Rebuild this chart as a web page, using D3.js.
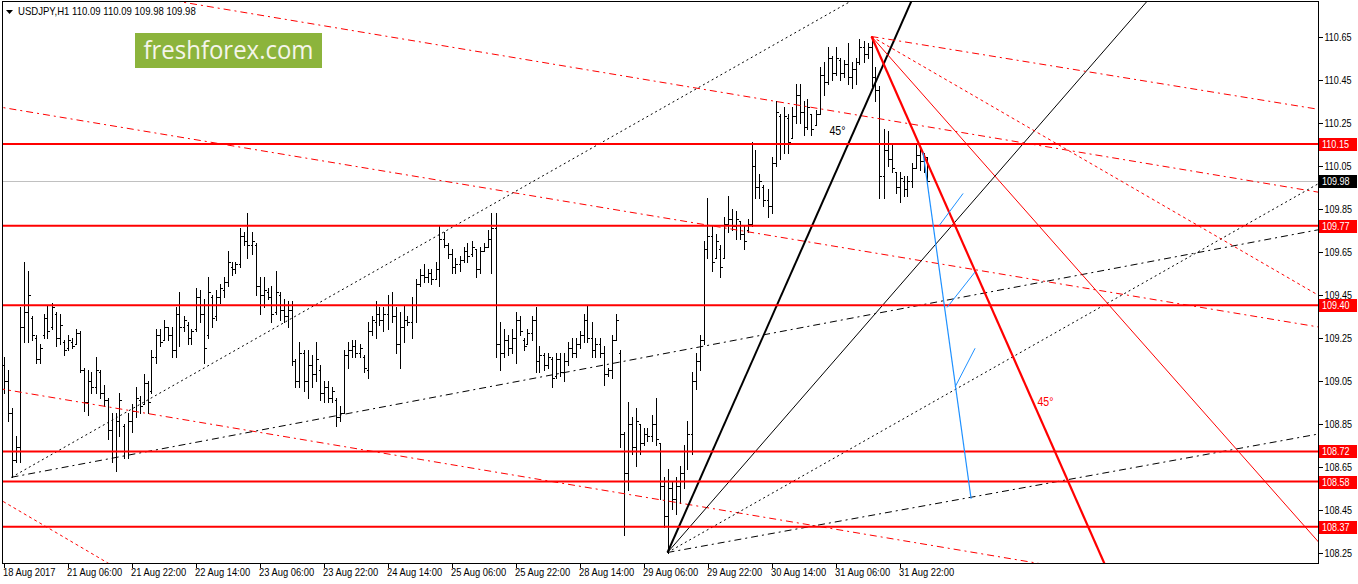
<!DOCTYPE html>
<html><head><meta charset="utf-8">
<script src="https://cdn.jsdelivr.net/npm/d3@7"></script>
<style>body{margin:0;background:#fff;} svg{display:block;}</style>
</head><body>
<svg id="c" width="1358" height="584"></svg>
<script>
// ---------- DATA ----------
const symbolTitle = "USDJPY,H1  110.09 110.09 109.98 109.98";
const opens = [
109.12,109.05,108.90,108.68,108.74,109.30,109.37,109.34,109.25,109.15,
109.26,109.34,109.30,109.36,109.25,109.23,109.20,109.23,109.22,109.27,
109.10,108.95,109.05,109.02,109.09,108.99,108.96,108.82,108.72,108.86,
108.84,108.72,108.86,108.91,108.96,108.94,109.04,109.00,109.16,109.26,
109.24,109.30,109.26,109.19,109.36,109.30,109.31,109.25,109.29,109.44,
109.36,109.26,109.44,109.35,109.44,109.47,109.51,109.58,109.57,109.59,
109.72,109.70,109.68,109.68,109.49,109.45,109.46,109.44,109.37,109.45,
109.38,109.35,109.38,109.14,109.05,109.18,109.05,109.12,109.08,109.10,
108.99,109.02,108.97,108.96,108.88,108.90,109.17,109.19,109.21,109.18,
109.16,109.10,109.28,109.32,109.36,109.33,109.36,109.40,109.35,109.22,
109.30,109.33,109.32,109.40,109.50,109.54,109.53,109.55,109.52,109.57,
109.71,109.68,109.64,109.58,109.59,109.61,109.65,109.64,109.66,109.57,
109.65,109.67,109.71,109.76,109.22,109.18,109.24,109.20,109.25,109.33,
109.24,109.22,109.27,109.33,109.14,109.17,109.12,109.15,109.07,109.15,
109.09,109.14,109.20,109.18,109.22,109.26,109.33,109.25,109.19,109.22,
109.18,109.08,109.10,109.24,109.18,108.80,108.62,108.85,108.74,108.85,
108.76,108.80,108.79,108.85,108.76,108.56,108.42,108.55,108.50,108.56,
108.62,108.72,108.80,109.05,109.14,109.24,109.66,109.72,109.62,109.66,
109.62,109.78,109.80,109.77,109.79,109.73,109.75,109.78,110.05,109.95,
109.95,109.89,109.86,110.06,110.28,110.15,110.27,110.18,110.28,110.38,
110.30,110.23,110.29,110.24,110.29,110.47,110.44,110.55,110.48,110.54,
110.48,110.52,110.46,110.50,110.53,110.60,110.57,110.60,110.46,110.40,
110.00,110.12,110.08,110.02,109.95,109.98,109.94,109.98,110.04,110.10,
110.07,110.09];
const highs = [
109.16,109.10,108.92,108.79,109.39,109.60,109.56,109.35,109.26,109.22,
109.36,109.40,109.41,109.37,109.36,109.24,109.26,109.25,109.29,109.28,
109.11,109.10,109.09,109.16,109.10,109.03,108.97,108.90,108.90,108.99,
108.85,108.90,108.94,109.02,108.98,109.08,109.05,109.19,109.29,109.29,
109.33,109.30,109.30,109.39,109.46,109.35,109.32,109.29,109.48,109.47,
109.43,109.53,109.45,109.47,109.50,109.53,109.65,109.60,109.60,109.76,
109.74,109.83,109.74,109.69,109.53,109.53,109.48,109.49,109.56,109.46,
109.43,109.42,109.42,109.15,109.23,109.19,109.19,109.17,109.23,109.12,
109.05,109.05,109.02,108.97,108.93,109.19,109.23,109.24,109.24,109.22,
109.17,109.32,109.35,109.42,109.39,109.39,109.45,109.46,109.39,109.37,
109.40,109.35,109.44,109.52,109.57,109.59,109.57,109.57,109.60,109.77,
109.74,109.69,109.66,109.62,109.63,109.67,109.69,109.70,109.66,109.67,
109.69,109.75,109.83,109.83,109.32,109.29,109.26,109.29,109.37,109.35,
109.25,109.29,109.35,109.39,109.21,109.18,109.18,109.16,109.18,109.18,
109.18,109.23,109.25,109.25,109.28,109.36,109.40,109.32,109.25,109.25,
109.21,109.11,109.26,109.36,109.19,108.81,108.95,108.88,108.92,108.85,
108.83,108.83,108.89,108.97,108.76,108.60,108.64,108.58,108.60,108.65,
108.75,108.86,109.09,109.18,109.26,109.70,109.90,109.77,109.73,109.68,
109.81,109.91,109.85,109.84,109.79,109.77,109.80,110.16,110.12,110.01,
109.96,109.94,110.09,110.35,110.29,110.32,110.29,110.32,110.43,110.43,
110.35,110.36,110.29,110.31,110.51,110.53,110.60,110.56,110.60,110.55,
110.54,110.62,110.53,110.55,110.64,110.63,110.62,110.65,110.51,110.42,
110.22,110.21,110.15,110.02,110.02,110.00,110.00,110.06,110.15,110.14,
110.11,110.09];
const lows = [
108.99,108.86,108.60,108.67,108.67,109.23,109.23,109.24,109.13,109.13,
109.25,109.25,109.29,109.21,109.22,109.17,109.19,109.20,109.22,109.09,
108.91,108.89,108.99,108.99,108.97,108.93,108.78,108.67,108.63,108.79,
108.69,108.69,108.81,108.88,108.90,108.94,108.90,108.99,109.13,109.21,
109.24,109.24,109.16,109.16,109.21,109.28,109.22,109.22,109.28,109.32,
109.13,109.25,109.30,109.33,109.41,109.44,109.49,109.54,109.55,109.58,
109.68,109.62,109.64,109.45,109.36,109.39,109.43,109.32,109.36,109.33,
109.32,109.30,109.12,109.02,109.02,109.00,108.97,109.02,109.05,108.96,
108.95,108.95,108.95,108.84,108.86,108.90,109.11,109.16,109.16,109.16,
109.09,109.06,109.26,109.25,109.31,109.28,109.29,109.32,109.18,109.11,
109.23,109.31,109.25,109.32,109.49,109.51,109.51,109.50,109.52,109.49,
109.67,109.62,109.55,109.55,109.56,109.60,109.60,109.63,109.53,109.55,
109.65,109.67,109.55,109.16,109.10,109.16,109.17,109.18,109.13,109.26,
109.19,109.22,109.24,109.09,109.09,109.10,109.11,109.02,109.06,109.07,
109.05,109.12,109.16,109.16,109.20,109.23,109.23,109.16,109.16,109.16,
109.03,109.07,109.06,109.24,108.74,108.33,108.54,108.71,108.65,108.71,
108.75,108.77,108.77,108.75,108.50,108.37,108.25,108.45,108.43,108.48,
108.55,108.64,108.71,109.01,109.10,109.22,109.62,109.56,109.62,109.53,
109.62,109.74,109.75,109.71,109.71,109.66,109.74,109.77,109.90,109.90,
109.86,109.81,109.83,110.05,110.08,110.11,110.11,110.18,110.25,110.25,
110.19,110.22,110.19,110.24,110.29,110.38,110.43,110.45,110.47,110.45,
110.46,110.43,110.41,110.43,110.52,110.53,110.55,110.42,110.35,109.90,
109.90,110.05,110.02,109.92,109.88,109.91,109.91,109.95,110.04,110.03,
110.02,109.98];
const closes = [
109.05,108.90,108.68,108.74,109.30,109.37,109.45,109.26,109.15,109.20,
109.34,109.28,109.39,109.25,109.31,109.19,109.24,109.21,109.27,109.10,
108.95,109.05,109.02,109.10,108.99,108.96,108.82,108.72,108.86,108.96,
108.72,108.86,108.91,108.97,108.93,109.04,108.95,109.16,109.26,109.23,
109.30,109.26,109.19,109.36,109.30,109.33,109.25,109.28,109.44,109.36,
109.20,109.46,109.34,109.44,109.48,109.51,109.60,109.57,109.59,109.72,
109.70,109.68,109.70,109.49,109.45,109.47,109.44,109.36,109.46,109.38,
109.35,109.38,109.14,109.05,109.18,109.05,109.12,109.08,109.15,108.99,
109.02,108.97,109.00,108.88,108.90,109.17,109.19,109.21,109.18,109.20,
109.11,109.28,109.33,109.36,109.33,109.36,109.40,109.35,109.22,109.30,
109.33,109.32,109.40,109.50,109.54,109.53,109.55,109.52,109.57,109.71,
109.68,109.64,109.58,109.59,109.61,109.65,109.63,109.67,109.57,109.65,
109.67,109.71,109.76,109.22,109.18,109.24,109.20,109.25,109.33,109.28,
109.21,109.27,109.33,109.14,109.17,109.12,109.16,109.06,109.15,109.09,
109.14,109.20,109.18,109.22,109.26,109.33,109.25,109.19,109.22,109.18,
109.08,109.10,109.24,109.33,108.80,108.62,108.85,108.74,108.86,108.76,
108.80,108.79,108.85,108.78,108.56,108.42,108.55,108.50,108.56,108.62,
108.72,108.80,109.05,109.14,109.24,109.66,109.72,109.60,109.70,109.58,
109.78,109.80,109.77,109.80,109.73,109.70,109.78,110.05,109.95,109.98,
109.89,109.86,110.06,110.30,110.15,110.28,110.16,110.28,110.38,110.30,
110.23,110.32,110.22,110.29,110.47,110.44,110.55,110.48,110.55,110.48,
110.52,110.46,110.50,110.53,110.60,110.57,110.60,110.46,110.40,110.00,
110.12,110.08,110.04,109.95,109.99,109.94,109.98,110.04,110.10,110.07,
110.09,109.98];

const xTickBars = [0,16,32,48,64,80,96,112,128,144,160,176,192,208,224];
const xTickLabels = ["18 Aug 2017","21 Aug 06:00","21 Aug 22:00","22 Aug 14:00","23 Aug 06:00","23 Aug 22:00","24 Aug 14:00","25 Aug 06:00","25 Aug 22:00","28 Aug 14:00","29 Aug 06:00","29 Aug 22:00","30 Aug 14:00","31 Aug 06:00","31 Aug 22:00"];
const yTicks = [108.25,108.45,108.65,108.85,109.05,109.25,109.45,109.65,109.85,110.05,110.25,110.45,110.65];
const levels = [110.15,109.77,109.40,108.72,108.58,108.37];
const bidPrice = 109.98;

// fan anchors: [bar, price]
const fanLowA = [166, 108.25];
const fanLowATargets = [[188.35,109.19],[199.2,108.96],[199.2,108.60],[328.4,108.80]];
const fanLowB = [2, 108.60];
const fanLowBTargets = [[61.7,109.23],[328.4,109.75]];
const fanHigh = [217, 110.65];
const fanHighTargets = [[275.2,108.20],[328.7,108.30],[328.4,109.45],[325.9,110.32]];
// channel lines (both ends extended): [[bar,price],[bar,price]]
const channelLines = [
  [[44.7,110.81],[327.4,109.93]],
  [[-0.3,110.32],[328.4,109.30]],
  [[-0.3,109.01],[149.9,108.54]],
  [[-0.33,108.49],[26.2,108.20]]
];
const blueMain = [[229.9,110.11],[241.9,108.50]];
const blueTicks = [
  [[233.9,109.77],[239.9,109.92]],
  [[235.9,109.39],[242.9,109.555]],
  [[237.9,109.02],[242.9,109.20]]
];
const angleLabels = [[[206.5,110.19],"45°"],[[258.5,108.93],"45°"]];

// ---------- DRAW ----------
const svg = d3.select("#c");
const L = 2, R = 1318, T = 1, B = 563;
const x = d3.scaleLinear().domain([0, 328.75]).range([3.5, 1318.5]);
const y = d3.scaleLinear().domain([108.25, 110.65]).range([552.5, 36.5]);
const FONT = "'Liberation Sans',Arial,sans-serif";
const NARROW = 0.84;

function narrow(sel, f) {
  sel.each(function() {
    const n = this.getComputedTextLength();
    d3.select(this).attr("textLength", n * (f || NARROW)).attr("lengthAdjust", "spacingAndGlyphs");
  });
}

svg.append("rect").attr("width",1358).attr("height",584).attr("fill","#fff");
svg.append("defs").append("clipPath").attr("id","plot")
  .append("rect").attr("x",L+1).attr("y",T+1).attr("width",R-L-1).attr("height",B-T-1);

const g = svg.append("g").attr("clip-path","url(#plot)");

// bid line
g.append("line").attr("x1",L).attr("x2",R).attr("y1",Math.round(y(bidPrice))+0.5).attr("y2",Math.round(y(bidPrice))+0.5)
  .attr("stroke","#c0c0c0").attr("stroke-width",1);

// bars
const barPath = d3.range(highs.length).map(i => {
  const cx = Math.round(x(i)) + 0.5;
  const yh = Math.round(y(highs[i])), yl = Math.round(y(lows[i]));
  const yo = Math.round(y(opens[i])) + 0.5, yc = Math.round(y(closes[i])) + 0.5;
  return `M${cx},${yh}V${yl+1}M${cx-1.5},${yo}h1M${cx+0.5},${yc}h1.5`;
}).join("");
g.append("path").attr("d",barPath).attr("stroke","#000").attr("stroke-width",1).attr("fill","none")
  .attr("shape-rendering","crispEdges");

function linePts(p1, p2, extL, extR) {
  const x1 = x(p1[0]), y1 = y(p1[1]), x2 = x(p2[0]), y2 = y(p2[1]);
  const dx = x2 - x1, dy = y2 - y1;
  const t0 = extL ? -60 : 0, t1 = extR ? 60 : 1;
  return [x1 + dx*t0, y1 + dy*t0, x1 + dx*t1, y1 + dy*t1];
}
function drawLine(p1, p2, extL, extR, color, w, dash) {
  const [a,b,c,d] = linePts(p1,p2,extL,extR);
  const ln = g.append("line").attr("x1",a).attr("y1",b).attr("x2",c).attr("y2",d)
    .attr("stroke",color).attr("stroke-width",w).attr("fill","none");
  if (dash) ln.attr("stroke-dasharray",dash);
  return ln;
}
const DASHDOT = "7,4,2,4", DOT = "2,3", SHORT = "3,3";

channelLines.forEach((c,i) => drawLine(c[0], c[1], true, true, "#ff0000", 1, i === 3 ? SHORT : DASHDOT));

const fanAStyles = [[2,null],[1,null],[1,DOT],[1,DASHDOT]];
fanLowATargets.forEach((t,i) => drawLine(fanLowA, t, false, true, "#000", fanAStyles[i][0], fanAStyles[i][1]));
const fanBStyles = [[1,DOT],[1,DASHDOT]];
fanLowBTargets.forEach((t,i) => drawLine(fanLowB, t, false, true, "#000", fanBStyles[i][0], fanBStyles[i][1]));
const fanHStyles = [[2.2,null],[1,null],[1,SHORT],[1,DASHDOT]];
fanHighTargets.forEach((t,i) => drawLine(fanHigh, t, false, true, "#ff0000", fanHStyles[i][0], fanHStyles[i][1]));

levels.forEach(v => {
  g.append("line").attr("x1",L).attr("x2",R).attr("y1",y(v)).attr("y2",y(v))
    .attr("stroke","#ff0000").attr("stroke-width",2);
});

drawLine(blueMain[0], blueMain[1], false, false, "#1e90ff", 1.2, null);
blueTicks.forEach(s => drawLine(s[0], s[1], false, false, "#1e90ff", 1, null));

angleLabels.forEach((a,i) => {
  const t = g.append("text").attr("x",x(a[0][0])).attr("y",y(a[0][1])).attr("font-family",FONT)
    .attr("font-size",12).attr("fill", i === 0 ? "#000" : "#ff0000").text(a[1]);
  narrow(t, 0.88);
});

// frame
svg.append("path").attr("d",`M${L+0.5},${B+0.5}V${T+0.5}H${R+0.5}V${B+0.5}H${L+0.5}`)
  .attr("stroke","#000").attr("fill","none").attr("shape-rendering","crispEdges");

// y axis
const yAxis = d3.axisRight(y).tickValues(yTicks).tickSize(4).tickPadding(2).tickFormat(d3.format(".2f"));
const ya = svg.append("g").attr("transform",`translate(${R+0.5},0)`).call(yAxis);
ya.select(".domain").remove();
ya.selectAll("text").attr("font-family",FONT).attr("font-size",11).attr("fill","#000");
narrow(ya.selectAll("text"), 0.82);
ya.selectAll("line").attr("stroke","#000").attr("shape-rendering","crispEdges");

// x axis
const xAxis = d3.axisBottom(x).tickValues(xTickBars).tickSize(4).tickFormat((d,i) => xTickLabels[i]);
const xa = svg.append("g").attr("transform",`translate(0,${B+0.5})`).call(xAxis);
xa.select(".domain").remove();
xa.selectAll("text").attr("font-family",FONT).attr("font-size",11).attr("fill","#000")
  .attr("text-anchor","start").attr("dx",-1).attr("dy","0.5em");
narrow(xa.selectAll("text"), 0.85);
xa.selectAll("line").attr("stroke","#000").attr("shape-rendering","crispEdges");

// price labels on the right
function priceTag(v, bg) {
  const yy = Math.round(y(v));
  svg.append("rect").attr("x",R+1).attr("y",yy-6).attr("width",38).attr("height",13).attr("fill",bg);
  const t = svg.append("text").attr("x",R+4).attr("y",yy+4).attr("font-family",FONT).attr("font-size",11)
    .attr("fill","#fff").text(v.toFixed(2));
  narrow(t, 0.82);
}
levels.forEach(v => priceTag(v, "#ff0000"));
priceTag(bidPrice, "#000");

// header
svg.append("path").attr("d","M6,10h7l-3.5,4z").attr("fill","#000");
const ht = svg.append("text").attr("x",18).attr("y",15).attr("font-family",FONT).attr("font-size",11)
  .attr("fill","#000").text(symbolTitle);
narrow(ht, 0.87);

// logo
svg.append("rect").attr("x",135).attr("y",33).attr("width",187).attr("height",35).attr("fill","#8cb43c");
svg.append("text").attr("x",228.5).attr("y",59).attr("text-anchor","middle").attr("font-family","'Open Sans',sans-serif")
  .attr("font-size",25).attr("fill","#f5f5ea").attr("textLength",170).attr("lengthAdjust","spacingAndGlyphs").text("freshforex.com");
</script>
</body></html>
